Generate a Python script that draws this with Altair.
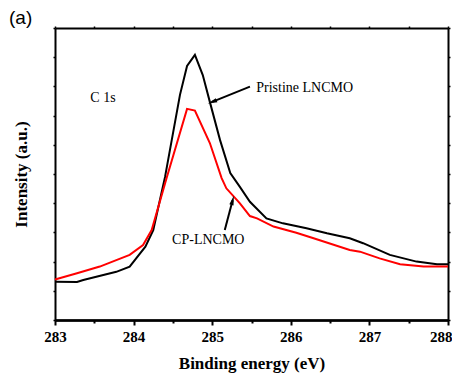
import altair as alt
import pandas as pd

# Binding energy (eV) and intensity (arbitrary units, 0-10 scale of the y frame)
pristine_x = [283.00, 283.28, 283.36, 283.78, 283.95, 284.15, 284.25, 284.40, 284.59, 284.68,
              284.78, 284.88, 284.97, 285.10, 285.23, 285.35, 285.48, 285.69, 285.90, 286.20,
              286.46, 286.75, 286.92, 287.26, 287.60, 287.86, 288.00]
pristine_y = [1.31, 1.30, 1.37, 1.65, 1.83, 2.51, 3.08, 4.90, 7.71, 8.70,
              9.08, 8.39, 7.47, 6.16, 5.03, 4.57, 4.05, 3.48, 3.31, 3.14,
              2.97, 2.80, 2.63, 2.23, 2.00, 1.91, 1.91]
cp_x = [283.00, 283.28, 283.57, 283.78, 283.95, 284.12, 284.23, 284.42, 284.68, 284.78,
        284.97, 285.12, 285.18, 285.35, 285.48, 285.57, 285.78, 286.07, 286.29, 286.75,
        286.88, 287.13, 287.39, 287.69, 288.00]
cp_y = [1.39, 1.60, 1.83, 2.05, 2.23, 2.57, 3.08, 4.86, 7.23, 7.17,
        6.06, 4.86, 4.51, 4.00, 3.56, 3.48, 3.20, 2.99, 2.80, 2.40,
        2.34, 2.11, 1.91, 1.83, 1.83]

major_ticks = [283, 284, 285, 286, 287]
last_tick = [288]
minor_ticks = [283.5, 284.5, 285.5, 286.5, 287.5]
y_ticks = [0, 1, 2, 3, 4, 5, 6, 7, 8, 9, 10]

labels = ["C 1s", "Pristine LNCMO", "CP-LNCMO"]
label_x = [283.45, 285.56, 284.49]
label_y = [7.6, 7.95, 2.74]

arrow_x1 = [285.48, 285.16]
arrow_y1 = [7.99, 3.08]
arrow_x2 = [285.00, 285.26]
arrow_y2 = [7.47, 4.10]
arrow_angle = [248.6, 14.7]

panel_label = ["(a)"]

xdom = [283, 288]
ydom = [0, 10]
SERIF = "Liberation Serif"

df = pd.concat([
    pd.DataFrame({"x": pristine_x, "y": pristine_y, "s": "Pristine LNCMO", "o": range(len(pristine_x))}),
    pd.DataFrame({"x": cp_x, "y": cp_y, "s": "CP-LNCMO", "o": range(len(cp_x))}),
])

xs = alt.Scale(domain=xdom, nice=False, zero=False)
ys = alt.Scale(domain=ydom, nice=False, zero=False)

dom = dict(domain=True, domainColor="black", domainWidth=2, grid=False, tickColor="black")
lab = dict(labelFont=SERIF, labelFontSize=15, labelFontWeight="bold", labelColor="black",
           labelPadding=4, labelOverlap=False)

lines = alt.Chart(df).mark_line(strokeWidth=2).encode(
    x=alt.X("x:Q", scale=xs, axis=alt.Axis(
        orient="bottom", values=major_ticks, format="d", tickSize=5, tickWidth=2,
        labelFlush=False, **lab,
        title="Binding energy (eV)", titleFont=SERIF, titleFontSize=17,
        titleFontWeight="bold", titleColor="black", titlePadding=11, **dom)),
    y=alt.Y("y:Q", scale=ys, axis=alt.Axis(
        orient="left", values=y_ticks, labels=False, tickSize=2, tickWidth=1.5,
        title="Intensity (a.u.)", titleFont=SERIF, titleFontSize=17,
        titleFontWeight="bold", titleColor="black", titlePadding=22, **dom)),
    color=alt.Color("s:N", scale=alt.Scale(domain=["Pristine LNCMO", "CP-LNCMO"],
                                           range=["#000000", "#ff0000"]), legend=None),
    order="o:Q",
)

minor_df = pd.DataFrame({"x": minor_ticks})
minor = alt.Chart(minor_df).mark_point(opacity=0).encode(
    x=alt.X("x:Q", scale=xs, axis=alt.Axis(
        orient="bottom", values=minor_ticks, labels=False, tickSize=3, tickWidth=2,
        title=None, **dom)),
    y=alt.Y("y:Q", scale=ys, axis=alt.Axis(
        orient="right", values=y_ticks, labels=False, tickSize=2, tickWidth=1.5,
        title=None, **dom)),
).transform_calculate(y="5")

end_df = pd.DataFrame({"x": last_tick})
end = alt.Chart(end_df).mark_point(opacity=0).encode(
    x=alt.X("x:Q", scale=xs, axis=alt.Axis(
        orient="bottom", values=last_tick, format="d", tickSize=5, tickWidth=2,
        labelFlush=True, labelFlushOffset=4, **lab, title=None, **dom)),
)

top_df = pd.DataFrame({"x": major_ticks + last_tick + minor_ticks})
top = alt.Chart(top_df).mark_point(opacity=0).encode(
    x=alt.X("x:Q", scale=xs, axis=alt.Axis(
        orient="top", values=major_ticks + last_tick + minor_ticks, labels=False, tickSize=2,
        tickWidth=1.5, title=None, **dom)),
)

txt_df = pd.DataFrame({"x": label_x, "y": label_y, "t": labels})
texts = alt.Chart(txt_df).mark_text(align="left", baseline="middle", font=SERIF,
                                    fontSize=14, color="black").encode(
    x=alt.X("x:Q", scale=xs, axis=None), y=alt.Y("y:Q", scale=ys, axis=None), text="t:N")

arr_df = pd.DataFrame({"x1": arrow_x1, "y1": arrow_y1, "x2": arrow_x2, "y2": arrow_y2,
                       "a": arrow_angle})
arrow_lines = alt.Chart(arr_df).mark_rule(strokeWidth=2, color="black").encode(
    x=alt.X("x1:Q", scale=xs, axis=None), y=alt.Y("y1:Q", scale=ys, axis=None),
    x2="x2:Q", y2="y2:Q")
arrow_heads = alt.Chart(arr_df).mark_point(
    shape="M0,-1L0.45,1L-0.45,1Z", filled=True, color="black", size=90, opacity=1
).encode(x=alt.X("x2:Q", scale=xs, axis=None), y=alt.Y("y2:Q", scale=ys, axis=None),
         angle=alt.Angle("a:Q", scale=None))

panel = alt.Chart(pd.DataFrame({"t": panel_label})).mark_text(
    align="left", baseline="middle", font="Liberation Sans", fontSize=19, color="black"
).encode(x=alt.value(-46), y=alt.value(-10), text="t:N")

chart = alt.layer(lines, minor, end, top, texts, arrow_lines, arrow_heads, panel).resolve_axis(
    x="independent", y="independent"
).properties(
    width=393, height=292,
    autosize=alt.AutoSizeParams(type="none"),
    padding={"left": 47, "top": 20, "right": 4, "bottom": 53},
).configure_view(stroke=None).configure(background="white")

chart.save("out.html", embed_options={"renderer": "svg", "actions": False})
